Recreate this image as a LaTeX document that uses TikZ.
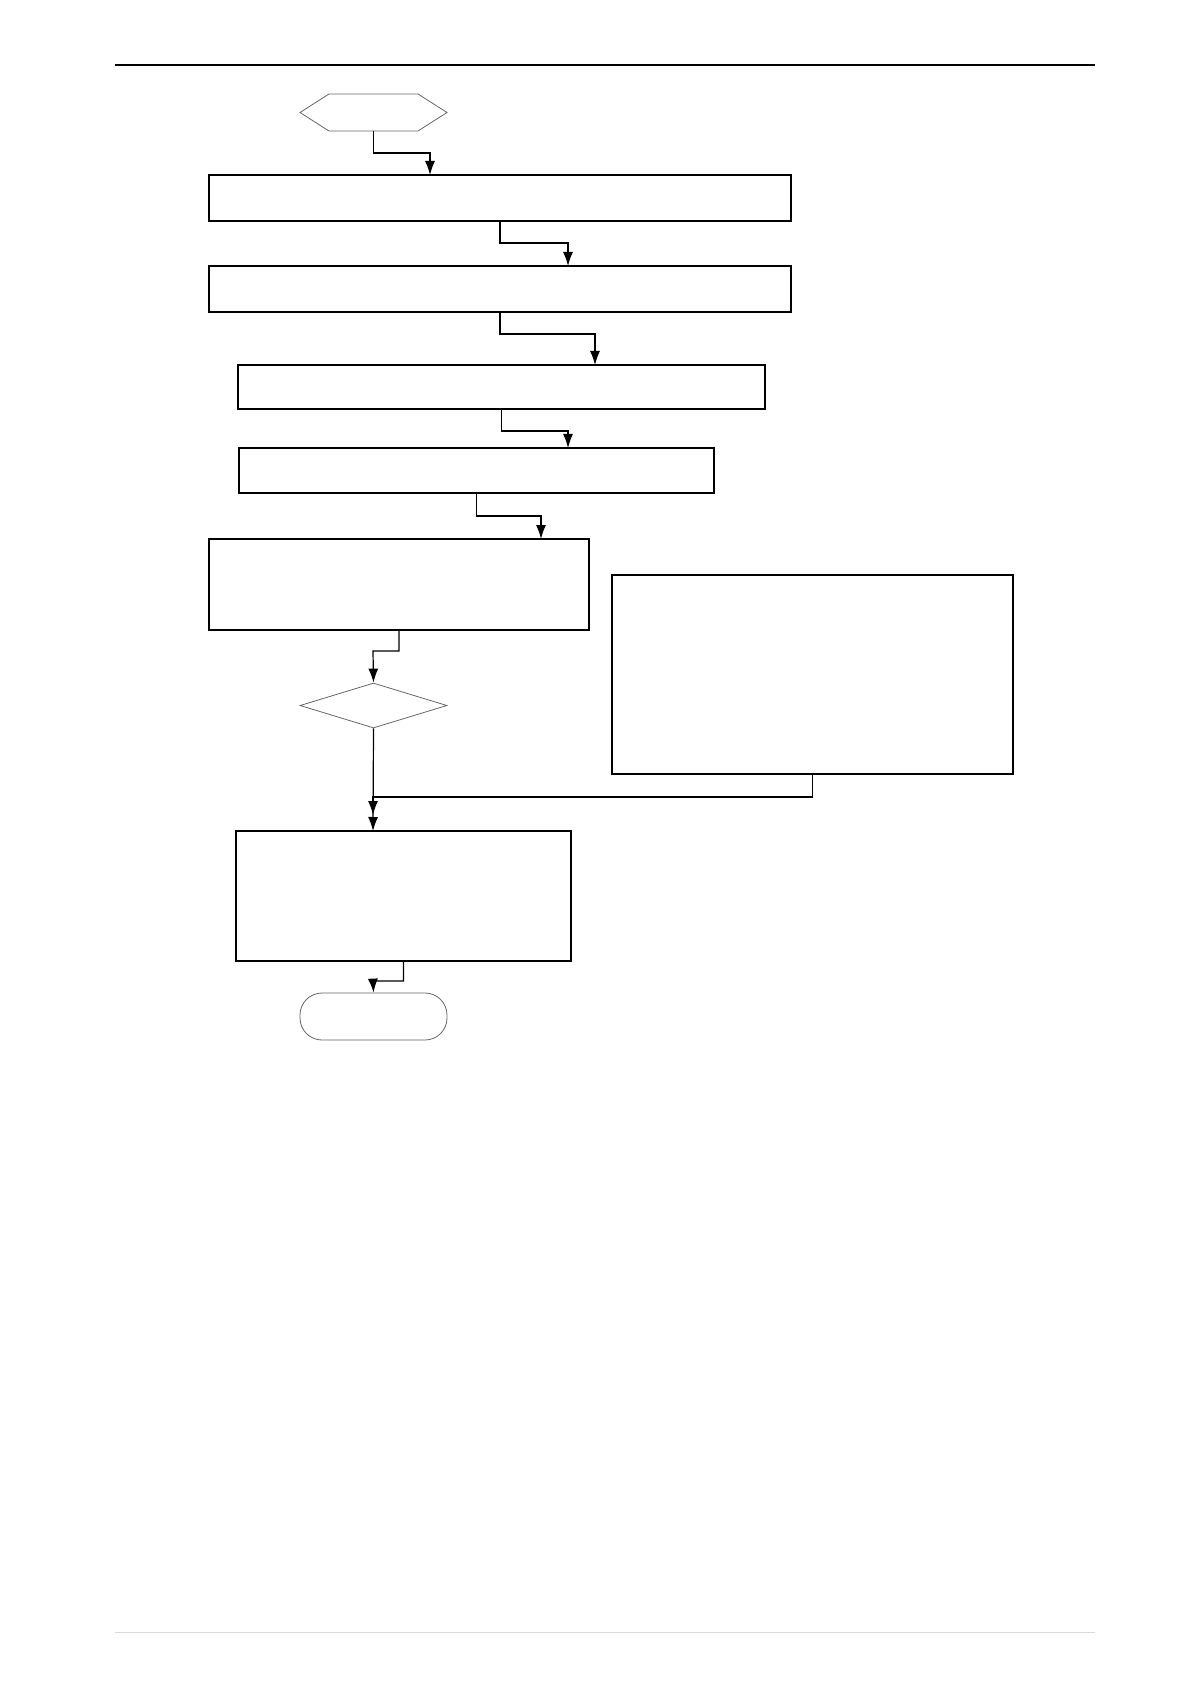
\documentclass[tikz,border=0pt]{standalone}
\usetikzlibrary{shapes.geometric,arrows.meta}
\begin{document}
\begin{tikzpicture}[x=0.5pt,y=-0.5pt,
  box/.style={draw=black,line width=0.65pt,inner sep=0pt,minimum width=#1},
  grayshape/.style={draw=gray!80!black,line width=0.4pt,inner sep=0pt},
  conn/.style={line width=0.6pt,-{Latex[length=7pt,width=5pt]}}]
\useasboundingbox (0,0) rectangle (1190,1684);
\draw[line width=0.7pt] (115,65) -- (1095,65);
\draw[line width=0.4pt,gray!30] (115,1632) -- (1095,1632);
% start hexagon
\node[inner sep=0pt,minimum width=73.5pt,minimum height=18.5pt] (hx) at (373.5,112.5) {};
\draw[gray!80!black,line width=0.4pt] (300,112.5) -- (329,94) -- (418,94) -- (447,112.5) -- (418,131) -- (329,131) -- cycle;
\node[box=291pt,minimum height=23pt] (b1) at (500,198) {};
\node[box=291pt,minimum height=23pt] (b2) at (500,289) {};
\node[box=263.5pt,minimum height=22pt] (b3) at (501.5,387) {};
\node[box=237.5pt,minimum height=22.5pt] (b4) at (476.5,470.5) {};
\node[box=190pt,minimum height=45.5pt] (b5) at (399,584.5) {};
\node[grayshape,diamond,minimum width=73.5pt,minimum height=22.5pt] (d) at (373.5,705.5) {};
\node[box=200.5pt,minimum height=99.5pt] (r) at (812.5,674.5) {};
\node[box=167.5pt,minimum height=65pt] (b6) at (403.5,896) {};
\node[grayshape,rounded corners=11pt,minimum width=73.5pt,minimum height=23.5pt] (e) at (373.5,1016.5) {};
\coordinate (m) at (373,815);
\draw[conn] (hx.south) |- (430,153) -- (430,175);
\draw[conn] (b1.south) |- (568,243) -- (568,266);
\draw[conn] (b2.south) |- (595,334) -- (595,365);
\draw[conn] (b3.south) |- (568,431) -- (568,448);
\draw[conn] (b4.south) |- (541,516) -- (541,539);
\draw[conn] (b5.south) |- (373,651) -- (d.north);
\draw[conn] (d.south) -- (373,831);
\draw[conn] (r.south) |- (373,797) -- (m);
\draw[conn] (b6.south) |- (373,981) -- (e.north);
\end{tikzpicture}
\end{document}
